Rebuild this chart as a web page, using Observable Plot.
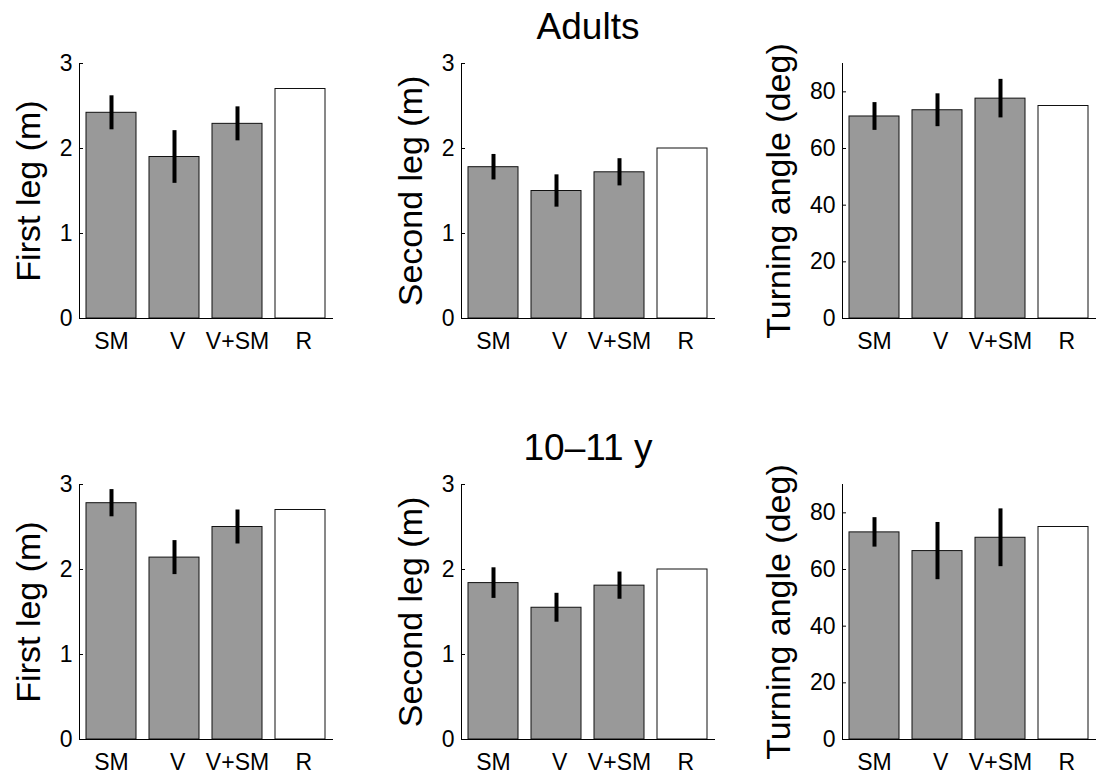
<!DOCTYPE html>
<html>
<head>
<meta charset="utf-8">
<script src="https://cdn.jsdelivr.net/npm/d3@7"></script>
<script src="https://cdn.jsdelivr.net/npm/@observablehq/plot@0.6"></script>
<style>
  html, body { margin: 0; padding: 0; background: white; }
  #wrap { position: relative; width: 1097px; height: 778px; overflow: hidden; background: white;
          font-family: "Liberation Sans", Arial, Helvetica, sans-serif; }
  .panel { position: absolute; }
  .title { position: absolute; font-size: 37px; line-height: 37px; color: black; white-space: nowrap;
           transform: translateX(-50%); }
</style>
</head>
<body>
<div id="wrap"></div>
<script>
// ---- data ----
const categories = ["SM", "V", "V+SM", "R"];
const rowTitles = ["Adults", "10–11 y"];
const yLabels = ["First leg (m)", "Second leg (m)", "Turning angle (deg)"];

const adultsFirstLeg      = [2.42, 1.90, 2.29, 2.70];
const adultsFirstLegErr   = [0.20, 0.31, 0.20, null];
const adultsSecondLeg     = [1.78, 1.50, 1.72, 2.00];
const adultsSecondLegErr  = [0.15, 0.19, 0.16, null];
const adultsAngle         = [71.3, 73.5, 77.6, 75.0];
const adultsAngleErr      = [4.9, 5.8, 6.8, null];

const kidsFirstLeg        = [2.78, 2.14, 2.50, 2.70];
const kidsFirstLegErr     = [0.16, 0.20, 0.20, null];
const kidsSecondLeg       = [1.84, 1.55, 1.81, 2.00];
const kidsSecondLegErr    = [0.18, 0.17, 0.16, null];
const kidsAngle           = [73.1, 66.5, 71.2, 75.0];
const kidsAngleErr        = [5.2, 10.1, 10.2, null];

const legDomain = [0, 3];
const legTicks = [0, 1, 2, 3];
const angleDomain = [0, 90];
const angleTicks = [0, 20, 40, 60, 80];

// ---- layout ----
const frameW = 254, frameH = 255;
const cols = [
  {left: 0,   ml: 79,  mr: 20, labelDx: -50},
  {left: 370, ml: 91,  mr: 15, labelDx: -50},
  {left: 730, ml: 112, mr: 1,  labelDx: -63}
];
const rows = [
  {top: 0,   mt: 63,  mb: 50},
  {top: 400, mt: 84,  mb: 39}
];

function panel(means, errs, yDomain, yTicks, yLabel, col, row) {
  const table = categories.map((c, i) => ({cond: c, mean: means[i], err: errs[i]}));
  const withErr = table.filter(d => d.err != null);
  return Plot.plot({
    width: col.ml + frameW + col.mr,
    height: row.mt + frameH + row.mb,
    marginLeft: col.ml, marginRight: col.mr, marginTop: row.mt, marginBottom: row.mb,
    style: {fontFamily: "'Liberation Sans', Arial, Helvetica, sans-serif", fontSize: "23px",
            background: "transparent", overflow: "visible", color: "black"},
    x: {domain: categories, paddingInner: 0.2, paddingOuter: 0.1, axis: null},
    y: {domain: yDomain, axis: null},
    marks: [
      Plot.barY(table, {x: "cond", y: "mean",
        fill: d => d.cond === "R" ? "white" : "#999999",
        stroke: "#111", strokeWidth: 1}),
      Plot.ruleX(withErr, {x: "cond", y1: d => d.mean - d.err, y2: d => d.mean + d.err,
        stroke: "black", strokeWidth: 4}),
      Plot.axisX({tickSize: 0, tickPadding: 14, label: null, fontSize: 23,
        tickFormat: d => (d === "V" || d === "R") ? "\u00a0" + d : d}),
      Plot.axisY({ticks: yTicks, tickFormat: d => String(d), tickSize: -4, tickPadding: 11,
        label: null, fontSize: 23}),
      Plot.ruleY([yDomain[0]], {stroke: "black", strokeWidth: 1}),
      Plot.frame({anchor: "left", stroke: "black", strokeWidth: 1}),
      Plot.text([yLabel], {frameAnchor: "left", dx: col.labelDx, rotate: -90,
        textAnchor: "middle", lineAnchor: "middle", fontSize: 34, fill: "black"})
    ]
  });
}

const wrap = document.getElementById("wrap");
const specs = [
  [adultsFirstLeg, adultsFirstLegErr, legDomain, legTicks, yLabels[0], 0, 0],
  [adultsSecondLeg, adultsSecondLegErr, legDomain, legTicks, yLabels[1], 1, 0],
  [adultsAngle, adultsAngleErr, angleDomain, angleTicks, yLabels[2], 2, 0],
  [kidsFirstLeg, kidsFirstLegErr, legDomain, legTicks, yLabels[0], 0, 1],
  [kidsSecondLeg, kidsSecondLegErr, legDomain, legTicks, yLabels[1], 1, 1],
  [kidsAngle, kidsAngleErr, angleDomain, angleTicks, yLabels[2], 2, 1]
];
for (const [m, e, dom, ticks, lab, ci, ri] of specs) {
  const col = cols[ci], row = rows[ri];
  const svg = panel(m, e, dom, ticks, lab, col, row);
  svg.classList.add("panel");
  svg.style.position = "absolute";
  svg.style.left = col.left + "px";
  svg.style.top = row.top + "px";
  wrap.appendChild(svg);
}

// row titles
const titleTops = [8, 429];
rowTitles.forEach((t, i) => {
  const d = document.createElement("div");
  d.className = "title";
  d.textContent = t;
  d.style.left = "588px";
  d.style.top = titleTops[i] + "px";
  wrap.appendChild(d);
});
</script>
</body>
</html>
